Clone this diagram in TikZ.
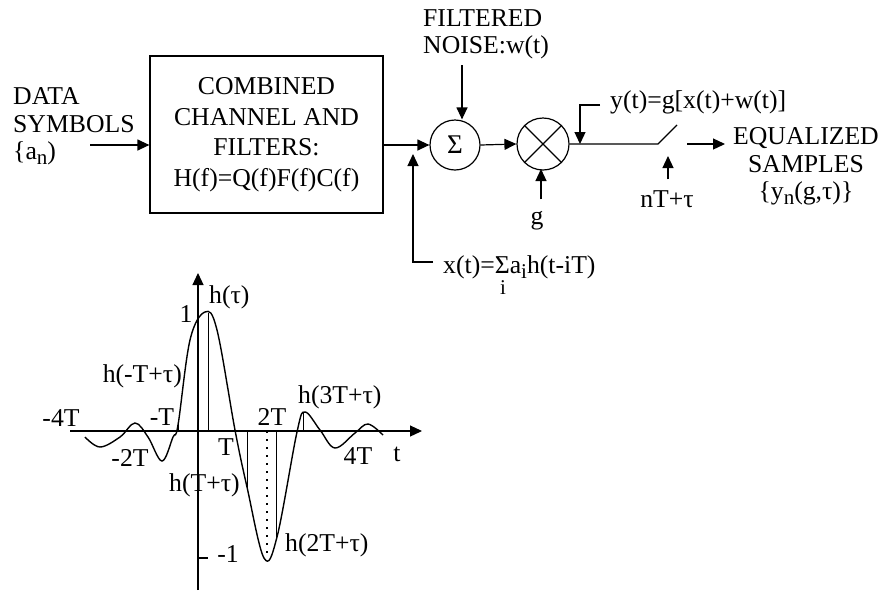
\documentclass[tikz,border=0pt]{standalone}
\usepackage{fontspec}
\setmainfont{Liberation Serif}
\usetikzlibrary{arrows.meta}
\newcommand{\lowsub}[1]{\raisebox{-0.4ex}{\fontsize{21}{21}\selectfont #1}}

\begin{document}
\begin{tikzpicture}[
  x=1pt, y=-1pt,
  lbl/.style={font=\fontsize{25.7}{27.5}\selectfont, align=center, inner sep=0pt, yshift=-2.5pt},
  comp/.style={draw, line width=1.2pt, fill=white},
  sig/.style={-{Stealth[length=12pt,width=11pt,inset=0pt]}, line width=1.2pt},
  wire/.style={line width=1.2pt},
  stem/.style={line width=1pt}
]
  \useasboundingbox (0,0) rectangle (881,590);

  % blocks
  \node[comp, minimum width=233pt, minimum height=157pt] (channel) at (266.5,134.5) {};
  \node[lbl, font=\fontsize{25.7}{30.5}\selectfont] (chanlbl) at (266.5,132)
    {COMBINED\\CHANNEL AND\\FILTERS:\\H(f)=Q(f)F(f)C(f)};
  \node[comp, circle, minimum size=50pt, inner sep=0pt, font=\fontsize{27}{27}\selectfont] (sum) at (455,145) {Σ};
  \node[comp, circle, minimum size=52pt, inner sep=0pt] (mixer) at (543,144) {};
  \draw[wire] (mixer.north west) -- (mixer.south east);
  \draw[wire] (mixer.north east) -- (mixer.south west);

  % labels
  \node[lbl, align=left, anchor=west] (data) at (13,124) {DATA\\SYMBOLS\\\{a\lowsub{n})};
  \node[lbl, align=left, anchor=west] (noise) at (423,32) {FILTERED\\NOISE:w(t)};
  \node[lbl] (gain) at (537,218) {g};
  \node[lbl, anchor=west] (ylbl) at (610,100) {y(t)=g[x(t)+w(t)]};
  \node[lbl] (clock) at (667,197) {nT+τ};
  \node[lbl] (samples) at (806,164) {EQUALIZED\\SAMPLES\\\{y\lowsub{n}(g,τ)\}};
  \node[lbl, anchor=west] (xlbl) at (443,265) {x(t)=Σa\lowsub{i}h(t-iT)};
  \node[lbl, font=\fontsize{21}{21}\selectfont] (xidx) at (503,285) {i};

  % connectors
  \coordinate (datain) at (90,145);
  \coordinate (noisein) at (462,65);
  \coordinate (xelbow) at (413,262);
  \coordinate (yelbow) at (580,105);
  \coordinate (swleft) at (658,144);
  \coordinate (swright) at (677,125);
  \coordinate (outstart) at (687,144);
  \draw[sig] (datain) -- (channel.west |- datain);
  \draw[sig] (channel.east |- sum) -- (sum.west);
  \draw[sig] (noisein) -- (noisein |- sum.north);
  \draw[sig] (xlbl.west) ++(-10,-5.5) -- (xelbow) -- (413,154);
  \draw[sig] (sum.east) -- (mixer.west);
  \draw[sig] (gain.north) ++(4,-11.5) -- (541,169);
  \draw[wire] (mixer.east) -- (swleft) -- (swright);
  \draw[sig] (ylbl.west) ++(-10,2.5) -- (yelbow) -- (580,144);
  \draw[sig] (clock.north) ++(1,-11.5) -- (668,156);
  \draw[sig] (outstart) -- (725,144);

  % axes
  \coordinate (xleft) at (70,431);
  \coordinate (xright) at (422,431);
  \coordinate (ytop) at (198,273);
  \coordinate (ybot) at (198,590);
  \draw[sig] (xleft) -- (xright);
  \draw[sig] (ybot) -- (ytop);
  \draw[wire] (198,558) -- (208,558);

  % pulse
  \draw[line width=1.4pt] plot[smooth, tension=0.6] coordinates {(85,437) (100,447) (120,437) (135,423)
    (148,437) (162,461) (173,437) (178,425) (190,340) (205,312) (217,330) (235,430)
    (247,487) (264,558) (277,537) (297,432) (305,412) (320,430) (335,448) (355,433)
    (368,424) (383,435)};

  % samples
  \draw[stem] (208,313) -- (208,431);
  \draw[stem] (178,425) -- (178,431);
  \draw[stem] (247,431) -- (247,490);
  \draw[line width=1.5pt, dash pattern=on 2pt off 6pt] (267,431) -- (267,558);
  \draw[stem] (276,431) -- (276,538);
  \draw[stem] (303,412) -- (303,431);

  % plot labels
  \node[lbl, anchor=west] (htau) at (209,295) {h(τ)};
  \node[lbl] (one) at (186,311.5) {1};
  \node[lbl, anchor=east] (hm1) at (182,374) {h(-T+τ)};
  \node[lbl] (m4t) at (61,415.5) {-4T};
  \node[lbl] (mt) at (162,414.5) {-T};
  \node[lbl] (m2t) at (130,455.5) {-2T};
  \node[lbl] (tlbl) at (226,444.5) {T};
  \node[lbl] (twot) at (272,414.5) {2T};
  \node[lbl, anchor=west] (h3) at (298,395) {h(3T+τ)};
  \node[lbl] (fourt) at (358,453.5) {4T};
  \node[lbl] (tvar) at (397,451.5) {t};
  \node[lbl, anchor=west] (h1) at (169,483) {h(T+τ)};
  \node[lbl, anchor=west] (h2) at (285,543) {h(2T+τ)};
  \node[lbl] (m1) at (228,551.5) {-1};
\end{tikzpicture}
\end{document}
